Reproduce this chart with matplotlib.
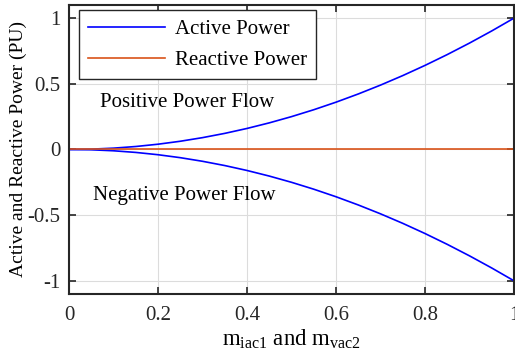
import matplotlib
matplotlib.use("Agg")
import matplotlib.pyplot as plt

plt.rcParams['font.family'] = ['Liberation Serif', 'DejaVu Serif']
plt.rcParams['mathtext.fontset'] = 'custom'
plt.rcParams['mathtext.rm'] = 'Liberation Serif'
plt.rcParams['mathtext.it'] = 'Liberation Serif:italic'
plt.rcParams['axes.unicode_minus'] = False

m = [0.0, 0.05, 0.1, 0.15, 0.2, 0.25, 0.3, 0.35, 0.4, 0.45, 0.5,
     0.55, 0.6, 0.65, 0.7, 0.75, 0.8, 0.85, 0.9, 0.95, 1.0]
p_pos = [0.0, 0.0025, 0.01, 0.0225, 0.04, 0.0625, 0.09, 0.1225, 0.16, 0.2025, 0.25,
         0.3025, 0.36, 0.4225, 0.49, 0.5625, 0.64, 0.7225, 0.81, 0.9025, 1.0]
p_neg = [-v for v in p_pos]
q = [0.0] * len(m)
xticks = [0, 0.2, 0.4, 0.6, 0.8, 1]
xticklabels = ['0', '0.2', '0.4', '0.6', '0.8', '1']
yticks = [-1, -0.5, 0, 0.5, 1]
yticklabels = ['-1', '-0.5', '0', '0.5', '1']

edge = '#262626'
fs = 15
fig = plt.figure(figsize=(5.15, 3.58), dpi=100)
ax = fig.add_axes([0.134, 0.179, 0.864, 0.807])

l1, = ax.plot(m, p_pos, color='#0000FF', lw=1.2, label='Active Power')
ax.plot(m, p_neg, color='#0000FF', lw=1.2)
l2, = ax.plot(m, q, color='#D95319', lw=1.2, label='Reactive Power')

ax.set_xlim(0, 1)
ax.set_ylim(-1.1, 1.1)
ax.set_xticks(xticks)
ax.set_xticklabels(xticklabels)
ax.set_yticks(yticks)
ax.set_yticklabels(yticklabels)
ax.grid(True, color='#DCDCDC', lw=0.8)
ax.set_axisbelow(True)
ax.tick_params(direction='in', top=True, right=True, length=5, width=1.2,
               labelsize=fs, colors=edge)
ax.tick_params(axis='x', pad=9)
ax.tick_params(axis='y', pad=6)
for s in ax.spines.values():
    s.set_linewidth(1.5)
    s.set_color(edge)

ax.text(0.07, 0.36, 'Positive Power Flow', fontsize=fs, va='center', ha='left')
ax.text(0.054, -0.35, 'Negative Power Flow', fontsize=fs, va='center', ha='left')

ax.set_xlabel(r'm$_{\rm iac1}$ and m$_{\rm vac2}$', fontsize=16.5, labelpad=2)
ax.set_ylabel('Active and Reactive Power (PU)', fontsize=14)
ax.yaxis.set_label_coords(-0.094, 0.5)

leg = ax.legend(handles=[l1, l2], loc='upper left', fontsize=fs, fancybox=False,
                framealpha=1, edgecolor=edge, handlelength=3.7,
                bbox_to_anchor=(0.022, 0.983), borderaxespad=0.0,
                labelspacing=0.55, borderpad=0.45, handletextpad=0.45)
leg.get_frame().set_linewidth(1.0)

fig.savefig('out.png', dpi=100)
